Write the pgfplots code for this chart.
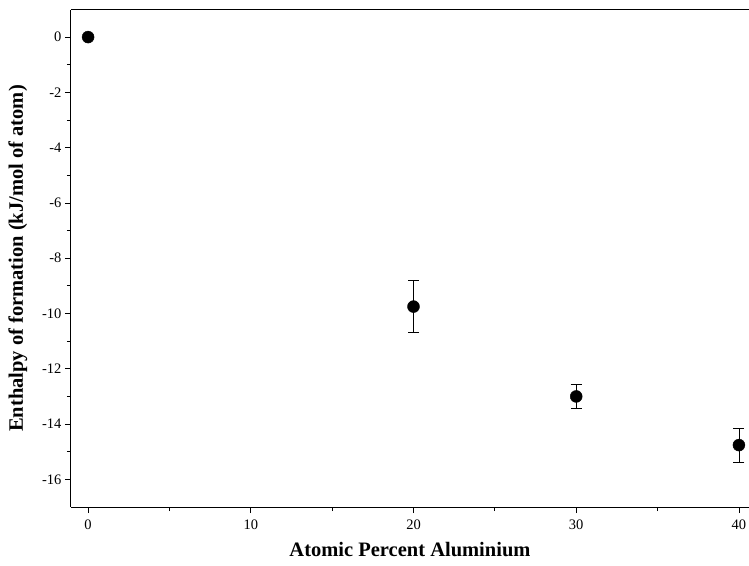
\documentclass[border=0pt]{standalone}
\usepackage{pgfplots}
\pgfplotsset{compat=1.18}
\usepackage{fontspec}
\setmainfont{Liberation Serif}
\begin{document}
\begin{tikzpicture}
\useasboundingbox (-71pt,-58pt) rectangle (678pt,507pt);
\begin{axis}[
  at={(0,0)}, anchor=south west,
  scale only axis,
  width=678pt, height=497pt,
  xmin=-1.05, xmax=40.62,
  ymin=-17, ymax=0.98,
  axis x line=box, axis y line=left,
  y axis line style={-},
  x axis line style={-},
  axis line style={line width=1pt},
  xtick={0,10,20,30,40},
  ytick={-16,-14,-12,-10,-8,-6,-4,-2,0},
  minor x tick num=1, minor y tick num=1,
  xtick pos=left, ytick pos=left,
  tick align=outside,
  major tick length=6pt, minor tick length=4pt,
  every tick/.style={black, line width=0.8pt},
  ticklabel style={font=\fontsize{14.5}{16}\selectfont},
  xticklabel style={yshift=-3pt},
  /pgf/number format/assume math mode=true,
  xlabel={\textbf{Atomic Percent Aluminium}},
  ylabel={\textbf{Enthalpy of formation (kJ/mol of atom)}},
  label style={font=\fontsize{20.5}{24}\selectfont},
  xlabel style={yshift=-6pt},
  ylabel style={yshift=8pt},
]
\addplot[only marks, mark=*, mark size=6pt, black,
  error bars/.cd, y dir=both, y explicit,
  error bar style={line width=0.8pt},
  error mark options={rotate=90, mark size=5.5pt, line width=0.8pt}]
  coordinates {
  (0,0) +- (0,0)
  (20,-9.75) +- (0,0.95)
  (30,-13.0) +- (0,0.42)
  (40,-14.76) +- (0,0.61)
};
\end{axis}
\end{tikzpicture}
\end{document}
